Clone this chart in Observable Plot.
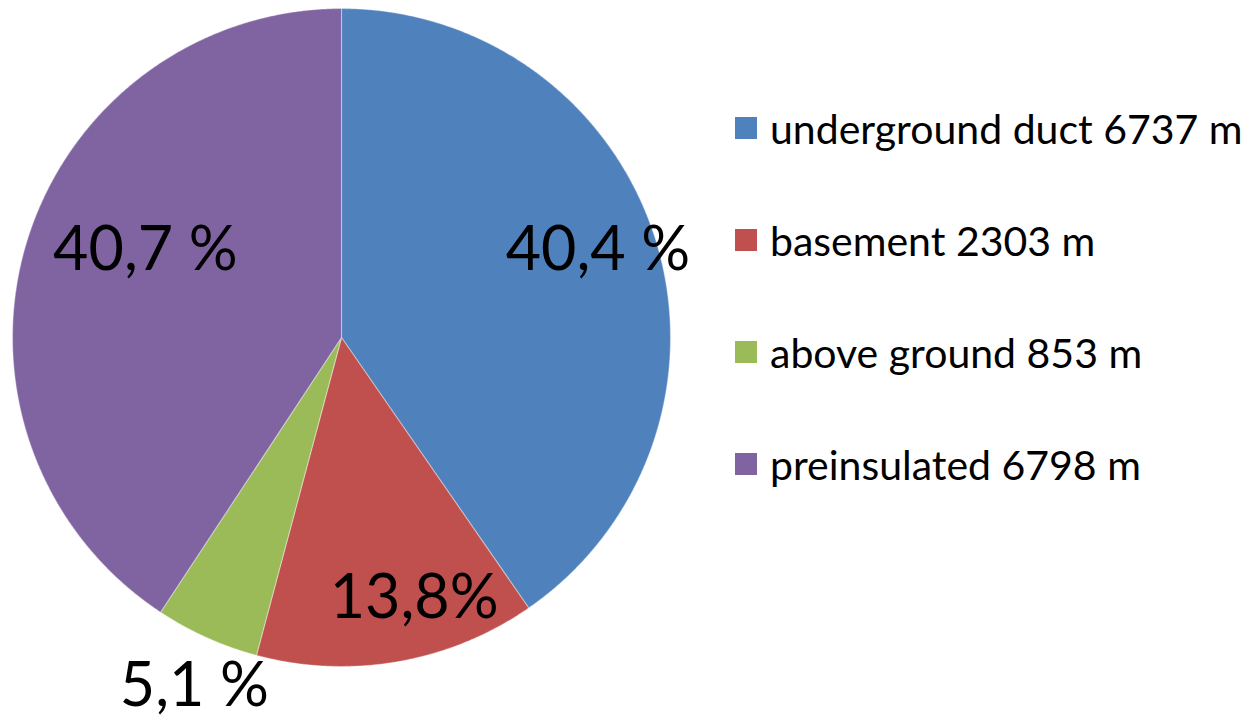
<!DOCTYPE html>
<html>
<head>
<meta charset="utf-8">
<script src="https://cdn.jsdelivr.net/npm/d3@7"></script>
<script src="https://cdn.jsdelivr.net/npm/@observablehq/plot@0.6"></script>
<style>
  html, body { margin: 0; padding: 0; background: #fff; }
  #wrap { position: relative; width: 1257px; height: 721px; overflow: hidden; }
  #legend { position: absolute; left: 735px; top: 0; font-family: Lato, "Open Sans", sans-serif; font-size: 41px; color: #000; }
  .row { position: absolute; left: 0; height: 40px; display: flex; align-items: center; white-space: nowrap; }
  .sw { width: 22px; height: 22px; margin-right: 13px; flex: none; }
</style>
</head>
<body>
<div id="wrap"></div>
<script>
// ---- data ----
const categories = ["underground duct", "basement", "above ground", "preinsulated"];
const lengths = [6737, 2303, 853, 6798];
const percentLabels = ["40,4 %", "13,8%", "5,1 %", "40,7 %"];
const legendLabels = ["underground duct 6737 m", "basement 2303 m", "above ground 853 m", "preinsulated 6798 m"];
const colors = ["#4F81BD", "#C0504D", "#9BBB59", "#8064A2"];
// label placement (radius as fraction of pie radius, angle nudge in degrees)
const labelRadius = [0.823, 0.823, 1.15, 0.652];
const labelAngleShift = [-1.4, -5.7, -1.3, 7.2];

// ---- build slices ----
const arcs = d3.pie().sort(null).value(d => d)(lengths);
const step = Math.PI / 720;
const slices = arcs.map((a, i) => {
  const pts = [{x: 0, y: 0}];
  const n = Math.max(2, Math.ceil((a.endAngle - a.startAngle) / step));
  for (let k = 0; k <= n; k++) {
    const t = a.startAngle + (a.endAngle - a.startAngle) * k / n;
    pts.push({x: Math.sin(t), y: Math.cos(t)});
  }
  return {cat: categories[i], color: colors[i], points: pts};
});
const labels = arcs.map((a, i) => {
  const m = (a.startAngle + a.endAngle) / 2 + labelAngleShift[i] * Math.PI / 180;
  return {text: percentLabels[i], x: labelRadius[i] * Math.sin(m), y: labelRadius[i] * Math.cos(m)};
});

const chart = Plot.plot({
  width: 1257,
  height: 721,
  marginLeft: 12,
  marginRight: 587,
  marginTop: 8,
  marginBottom: 55,
  x: {domain: [-1, 1], axis: null},
  y: {domain: [-1, 1], axis: null},
  style: {background: "#fff", overflow: "visible"},
  marks: [
    ...slices.map(s => Plot.line(s.points, {x: "x", y: "y", fill: s.color, stroke: "#ffffff", strokeOpacity: 0.35, strokeWidth: 1.2, curve: "linear-closed"})),
    Plot.text(labels, {x: "x", y: "y", text: "text", fontSize: 61, fontFamily: "Lato, 'Open Sans', sans-serif", fill: "#000", textAnchor: "middle", lineAnchor: "middle"})
  ]
});
const wrap = document.getElementById("wrap");
wrap.appendChild(chart);

const legend = document.createElement("div");
legend.id = "legend";
const rowCenters = [128, 240, 352, 464];
legendLabels.forEach((t, i) => {
  const r = document.createElement("div");
  r.className = "row";
  r.style.top = (rowCenters[i] - 20) + "px";
  const sw = document.createElement("div");
  sw.className = "sw";
  sw.style.background = colors[i];
  const tx = document.createElement("span");
  tx.textContent = t;
  r.appendChild(sw);
  r.appendChild(tx);
  legend.appendChild(r);
});
wrap.appendChild(legend);
</script>
</body>
</html>
